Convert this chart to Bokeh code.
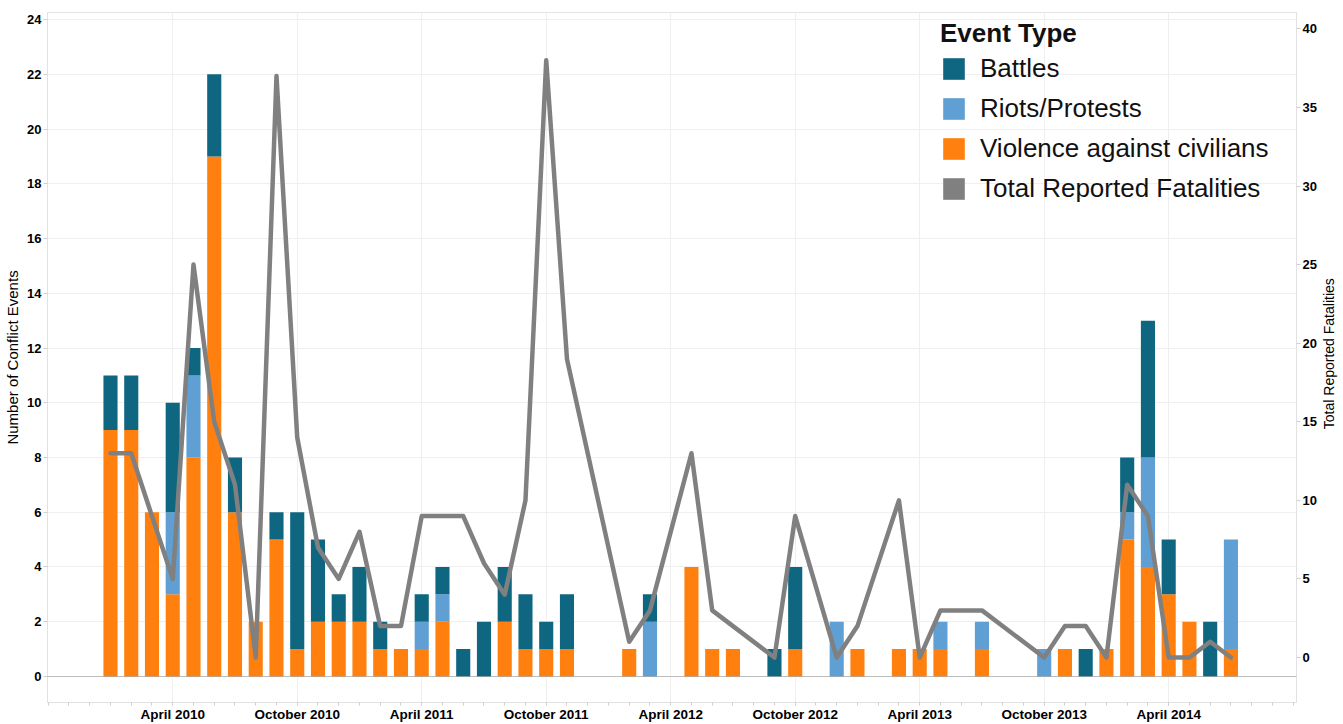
import math
from bokeh.plotting import figure
from bokeh.layouts import row
from bokeh.models import (Range1d, LinearAxis, FixedTicker, Span, Legend,
                          LegendItem, ColumnDataSource)
from bokeh.core.properties import value
from bokeh.embed import file_html
from bokeh.resources import INLINE

# ---- data (months that have recorded events) ----
months = ["2010-01", "2010-02", "2010-03", "2010-04", "2010-05", "2010-06",
          "2010-07", "2010-08", "2010-09", "2010-10", "2010-11", "2010-12",
          "2011-01", "2011-02", "2011-03", "2011-04", "2011-05", "2011-06",
          "2011-07", "2011-08", "2011-09", "2011-10", "2011-11",
          "2012-02", "2012-03", "2012-05", "2012-06", "2012-07", "2012-09",
          "2012-10", "2012-12",
          "2013-01", "2013-03", "2013-04", "2013-05", "2013-07", "2013-10",
          "2013-11", "2013-12",
          "2014-01", "2014-02", "2014-03", "2014-04", "2014-05", "2014-06",
          "2014-07"]
violence = [9, 9, 6, 3, 8, 19, 6, 2, 5, 1, 2, 2,
            2, 1, 1, 1, 2, 0, 0, 2, 1, 1, 1,
            1, 0, 4, 1, 1, 0, 1, 0,
            1, 1, 1, 1, 1, 0, 1, 0,
            1, 5, 4, 3, 2, 0, 1]
riots = [0, 0, 0, 3, 3, 0, 0, 0, 0, 0, 0, 0,
         0, 0, 0, 1, 1, 0, 0, 0, 0, 0, 0,
         0, 2, 0, 0, 0, 0, 0, 2,
         0, 0, 0, 1, 1, 1, 0, 0,
         0, 1, 4, 0, 0, 0, 4]
battles = [2, 2, 0, 4, 1, 3, 2, 0, 1, 5, 3, 1,
           2, 1, 0, 1, 1, 1, 2, 2, 2, 1, 2,
           0, 1, 0, 0, 0, 1, 3, 0,
           0, 0, 0, 0, 0, 0, 0, 1,
           0, 2, 5, 2, 0, 2, 0]
fatalities = [13, 13, 9, 5, 25, 15, 11, 0, 37, 14, 7, 5,
              8, 2, 2, 9, 9, 9, 6, 4, 10, 38, 19,
              1, 3, 13, 3, 2, 0, 9, 0,
              2, 10, 0, 3, 3, 0, 2, 2,
              0, 11, 9, 0, 0, 1, 0]

tick_months = ["2010-04", "2010-10", "2011-04", "2011-10", "2012-04",
               "2012-10", "2013-04", "2013-10", "2014-04"]
tick_labels = ["April 2010", "October 2010", "April 2011", "October 2011",
               "April 2012", "October 2012", "April 2013", "October 2013",
               "April 2014"]
right_title = ["Total Reported Fatalities"]

C_BATTLES = "#0f6680"
C_RIOTS = "#5f9fd3"
C_VIOL = "#ff800e"
C_LINE = "#808080"
FONT = "Liberation Sans"

X0, X1 = -3.036, 57.16


def midx(s):
    y, m = s.split("-")
    return (int(y) - 2010) * 12 + int(m) - 1


src = ColumnDataSource(dict(x=[midx(m) for m in months], violence=violence,
                            riots=riots, battles=battles, fat=fatalities))

p = figure(width=1320, height=724, output_backend="svg", toolbar_location=None,
           x_range=Range1d(X0, X1), y_range=Range1d(-0.95, 24.256),
           min_border_left=47, min_border_right=24, min_border_top=12,
           min_border_bottom=20)
p.extra_y_ranges = {"fat": Range1d(-2.86, 41.04)}
p.outline_line_color = "#e4e4e4"
p.background_fill_color = "white"
p.border_fill_color = "white"

major = [midx(m) for m in tick_months]
xax = p.xaxis[0]
xax.ticker = FixedTicker(ticks=major, minor_ticks=list(range(-3, 58)))
xax.major_label_overrides = {t: l for t, l in zip(major, tick_labels)}

yax = p.yaxis[0]
yax.ticker = FixedTicker(ticks=list(range(0, 25, 2)))
yax.axis_label = "Number of Conflict Events"

rax = LinearAxis(y_range_name="fat", ticker=FixedTicker(ticks=list(range(0, 41, 5))))
p.add_layout(rax, "right")

for ax in (xax, yax, rax):
    ax.axis_line_color = "#e2e2e2"
    ax.major_tick_line_color = "#cfcfcf"
    ax.minor_tick_line_color = "#cfcfcf"
    ax.major_tick_in = 0
    ax.major_tick_out = 4
    ax.minor_tick_in = 0
    ax.minor_tick_out = 4
    ax.major_label_text_font = FONT
    ax.major_label_text_font_size = "13px"
    ax.major_label_text_font_style = "bold"
    ax.major_label_text_color = "black"
    ax.major_label_standoff = 2
    ax.axis_label_text_font = FONT
    ax.axis_label_text_font_size = "15px"
    ax.axis_label_text_font_style = "normal"
    ax.axis_label_text_color = "black"
    ax.axis_label_standoff = 3
xax.major_tick_out = 3
xax.minor_tick_out = 3
xax.major_label_standoff = 1
xax.major_label_text_font_size = "13.5px"
yax.minor_tick_line_color = None
rax.minor_tick_line_color = None

p.xgrid.ticker = FixedTicker(ticks=major)
p.xgrid.grid_line_color = "#efefef"
p.ygrid.grid_line_color = "#efefef"

rs = p.vbar_stack(["violence", "riots", "battles"], x="x", width=0.68,
                  fill_color=[C_VIOL, C_RIOTS, C_BATTLES], line_color=None,
                  source=src)
p.add_layout(Span(location=0, dimension="width", line_color="#8a8a8a",
                  line_dash="1 1", line_width=1))
ln = p.line("x", "fat", source=src, y_range_name="fat", line_color=C_LINE,
            line_width=4.5, line_join="round", line_cap="round")
# legend swatch for the fatalities series (placed outside the visible range)
dummy = p.vbar(x=[-100], top=[1], width=0.5, fill_color=C_LINE, line_color=None)

legend = Legend(items=[LegendItem(label="Battles", renderers=[rs[2]]),
                       LegendItem(label="Riots/Protests", renderers=[rs[1]]),
                       LegendItem(label="Violence against civilians", renderers=[rs[0]]),
                       LegendItem(label="Total Reported Fatalities", renderers=[dummy])],
                title="Event Type", location=(890, 495), padding=3,
                background_fill_alpha=0, border_line_alpha=0,
                label_text_font=FONT, label_text_font_size="26px",
                label_text_color="#111111",
                title_text_font=FONT, title_text_font_size="26px",
                title_text_font_style="bold", title_text_color="#111111",
                glyph_width=27, glyph_height=27, label_height=27,
                spacing=9, label_standoff=13, title_standoff=4)
p.add_layout(legend)

# narrow strip on the right carrying the right-hand axis title (bottom-to-top)
p2 = figure(width=23, height=724, output_backend="svg", toolbar_location=None,
            x_range=Range1d(0, 1), y_range=Range1d(0, 1),
            x_axis_location=None, y_axis_location=None, min_border=0)
p2.outline_line_color = None
p2.grid.visible = False
p2.border_fill_color = "white"
p2.background_fill_color = "white"
p2.text(x=[0.35], y=[0.5055], text=right_title, angle=math.pi / 2,
        text_align="center", text_baseline="middle",
        text_font=value(FONT), text_font_size="14px", text_color="black")

layout = row(p, p2, spacing=0)
open("out.html", "w").write(file_html(layout, INLINE))
